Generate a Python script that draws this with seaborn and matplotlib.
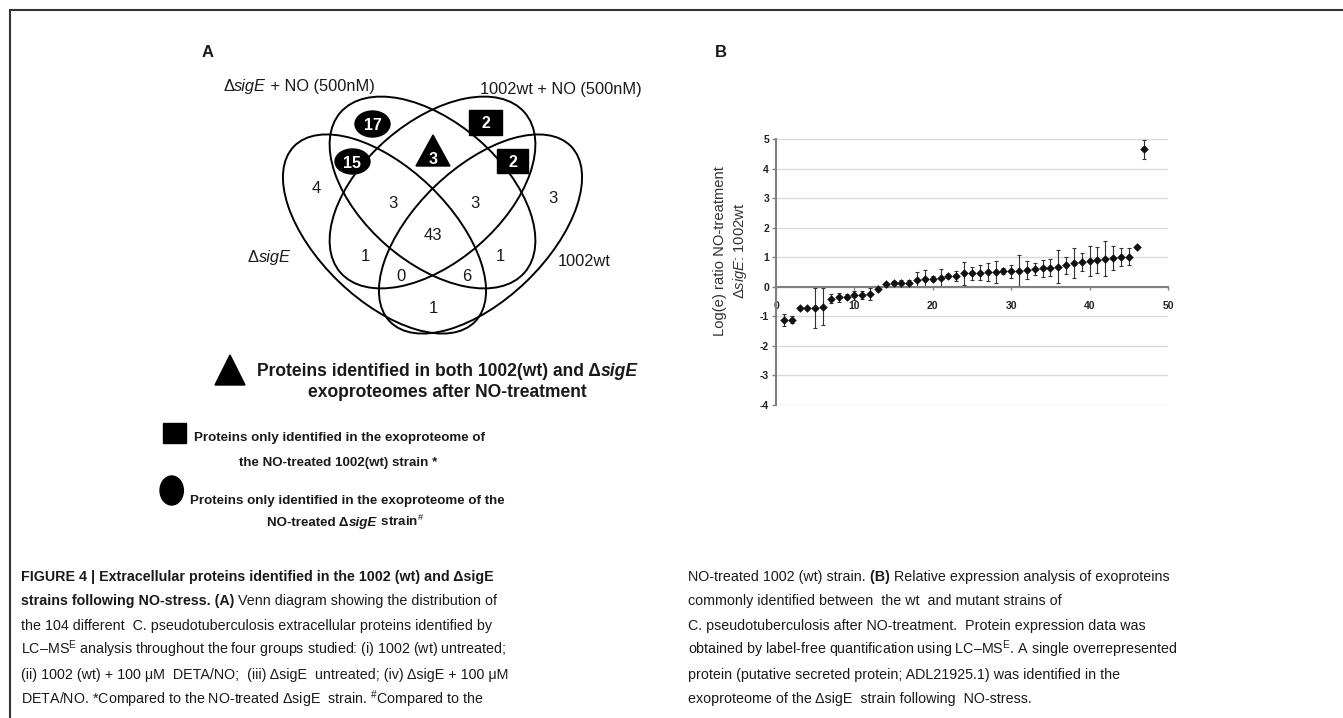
import matplotlib
matplotlib.use("Agg")
import matplotlib.pyplot as plt
import seaborn as sns
import pandas as pd
from matplotlib import font_manager
from matplotlib.patches import Ellipse, Rectangle, Polygon

# ---- panel B: log(e) ratio of the commonly identified proteins ----
protein_idx = list(range(1, 48))
log_ratio = [-1.13, -1.12, -0.73, -0.73, -0.72, -0.67, -0.41, -0.36, -0.33, -0.29,
             -0.28, -0.24, -0.09, 0.09, 0.12, 0.13, 0.13, 0.24, 0.28, 0.28,
             0.31, 0.37, 0.37, 0.45, 0.45, 0.47, 0.49, 0.50, 0.53, 0.53,
             0.55, 0.57, 0.60, 0.62, 0.65, 0.68, 0.72, 0.80, 0.85, 0.88,
             0.90, 0.95, 0.97, 1.00, 1.02, 1.35, 4.65]
log_err = [0.20, 0.12, 0.05, 0.05, 0.68, 0.62, 0.15, 0.15, 0.10, 0.15,
           0.15, 0.20, 0.05, 0.05, 0.07, 0.10, 0.10, 0.26, 0.30, 0.10,
           0.30, 0.06, 0.18, 0.38, 0.22, 0.25, 0.30, 0.38, 0.10, 0.22,
           0.52, 0.30, 0.20, 0.30, 0.30, 0.55, 0.30, 0.50, 0.30, 0.50,
           0.45, 0.60, 0.40, 0.30, 0.30, 0.08, 0.32]
x_ticks = [0, 10, 20, 30, 40, 50]
y_ticks = [-4, -3, -2, -1, 0, 1, 2, 3, 4, 5]

# ---- panel A: Venn diagram counts ----
set_names = ["ΔsigE", "ΔsigE + NO (500nM)", "1002wt + NO (500nM)", "1002wt"]
region_counts = [4, 17, 2, 3, 15, 3, 2, 3, 3, 43, 1, 1, 0, 6, 1]
region_marks = ["", "circle", "square", "", "circle", "triangle", "square",
                "", "", "", "", "", "", "", ""]

# layout (figure pixels, y pointing down)
W, H = 1343, 718
venn_ellipses = [(384.5, 234, 252, 132, 44), (432.5, 192.5, 244, 140, 41),
                 (432.5, 192.5, 244, 140, -41), (480.5, 234, 252, 132, -44)]
region_xy = [(316, 187), (372.5, 124), (485.5, 122.5), (553, 197), (352.5, 161.5),
             (433, 158), (512.5, 161), (393, 202), (475, 202), (433, 234),
             (365, 255), (500, 255), (401, 275), (467, 275), (433, 307)]
mark_size = {1: (35, 26), 2: (33, 25), 4: (35, 25), 5: (34, 31), 6: (31, 24)}
mark_center = {5: (433, 150.5)}

sns.set_theme(style="white")
names = {f.name for f in font_manager.fontManager.ttflist}
narrow = "Liberation Sans Narrow" if "Liberation Sans Narrow" in names else "Liberation Sans"
k = 1.0 if narrow != "Liberation Sans" else 0.82
plt.rcParams["font.family"] = ["Liberation Sans", "DejaVu Sans"]
plt.rcParams["axes.unicode_minus"] = False
plt.rcParams["mathtext.fontset"] = "custom"
plt.rcParams["mathtext.rm"] = "Liberation Sans"
plt.rcParams["mathtext.it"] = "Liberation Sans:italic"
plt.rcParams["mathtext.bf"] = "Liberation Sans:bold"

fig = plt.figure(figsize=(W / 100, H / 100), dpi=100)
ax_a = fig.add_axes([0, 0, 1, 1])
ax_a.set_xlim(0, W)
ax_a.set_ylim(H, 0)
ax_a.set_axis_off()

INK = "#1a1a1a"


def chain(x, y, parts, size, family="Liberation Sans", ha="left", color=INK):
    texts = []
    for s, style in parts:
        kw = dict(fontsize=size, family=family, color=color)
        kw.update(style)
        if texts:
            t = ax_a.annotate(s, xy=(1, 0), xycoords=texts[-1], va="bottom", ha="left", **kw)
        else:
            t = ax_a.text(x, y, s, va="baseline", ha="left", **kw)
        texts.append(t)
    if ha == "center":
        r = fig.canvas.get_renderer()
        w = sum(t.get_window_extent(r).width for t in texts)
        texts[0].set_x(x - w / 2)
    return texts


def with_italic(name, style=None):
    style = style or {}
    if "sigE" not in name:
        return [(name, style)]
    head, tail = name.split("sigE")
    it = dict(style, fontstyle="italic")
    parts = [(head, style), ("sigE", it)]
    if tail:
        parts.append((tail, style))
    return parts


# frame
ax_a.plot([9.5, 9.5, W], [H, 10, 10], color="#333333", lw=1.5, solid_joinstyle="miter")

# ---- Venn ----
for cx, cy, w, h, ang in venn_ellipses:
    ax_a.add_patch(Ellipse((cx, cy), w, h, angle=ang, fill=False, ec="black", lw=1.4))

for i, (n, m) in enumerate(zip(region_counts, region_marks)):
    tx, ty = region_xy[i]
    if m:
        w, h = mark_size[i]
        cx, cy = mark_center.get(i, (tx, ty))
        if m == "circle":
            ax_a.add_patch(Ellipse((cx, cy), w, h, color="black"))
        elif m == "square":
            ax_a.add_patch(Rectangle((cx - w / 2, cy - h / 2), w, h, color="black"))
        else:
            ax_a.add_patch(Polygon([(cx - w / 2, cy + h / 2), (cx + w / 2, cy + h / 2),
                                    (cx, cy - h / 2)], color="black"))
        ax_a.text(tx, ty, str(n), ha="center", va="center_baseline", fontsize=11.5,
                  color="white", fontweight="bold")
    else:
        ax_a.text(tx, ty, str(n), ha="center", va="center_baseline", fontsize=12, color=INK)

label_pos = [(248, 262), (223, 91), (480, 94), (558, 266)]
for name, (lx, ly) in zip(set_names, label_pos):
    chain(lx, ly, with_italic(name), 11.8)

ax_a.text(201.7, 56.7, "A", fontsize=12, fontweight="bold", color=INK, va="baseline")
ax_a.text(715, 56.7, "B", fontsize=12, fontweight="bold", color=INK, va="baseline")

# ---- legend of the marked regions ----
ax_a.add_patch(Polygon([(215, 385), (245, 385), (230, 355)], color="black"))
ax_a.add_patch(Rectangle((162.7, 422.7), 23, 20.6, color="black"))
ax_a.add_patch(Ellipse((171.7, 490.5), 23.3, 29, color="black"))

BD = {"fontweight": "bold"}
chain(447, 376, with_italic("Proteins identified in both 1002(wt) and ΔsigE", BD),
      15.4 * k, narrow, ha="center")
chain(447, 397, [("exoproteomes after NO-treatment", BD)], 15.4 * k, narrow, ha="center")
chain(339, 441, [("Proteins only identified in the exoproteome of", BD)], 11.8 * k, narrow, ha="center")
chain(338, 466, [("the NO-treated 1002(wt) strain *", BD)], 11.8 * k, narrow, ha="center")
chain(347, 504, [("Proteins only identified in the exoproteome of the", BD)], 11.8 * k, narrow, ha="center")
chain(346, 526, with_italic("NO-treated ΔsigE", BD) + [(" strain$^{\\#}$", BD)],
      11.8 * k, narrow, ha="center")

# ---- caption ----
RG = {}
cap_left = [
    [("FIGURE 4 | Extracellular proteins identified in the 1002 (wt) and ΔsigE", BD)],
    [("strains following NO-stress. (A)", BD), (" Venn diagram showing the distribution of", RG)],
    [("the 104 different  C. pseudotuberculosis extracellular proteins identified by", RG)],
    [("LC–MS$^{\\mathrm{E}}$ analysis throughout the four groups studied: (i) 1002 (wt) untreated;", RG)],
    [("(ii) 1002 (wt) + 100 μM  DETA/NO;  (iii) ΔsigE  untreated; (iv) ΔsigE + 100 μM", RG)],
    [("DETA/NO. *Compared to the NO-treated ΔsigE  strain. $^{\\#}$Compared to the", RG)],
]
cap_right = [
    [("NO-treated 1002 (wt) strain.", RG), (" (B)", BD), (" Relative expression analysis of exoproteins", RG)],
    [("commonly identified between  the wt  and mutant strains of", RG)],
    [("C. pseudotuberculosis after NO-treatment.  Protein expression data was", RG)],
    [("obtained by label-free quantification using LC–MS$^{\\mathrm{E}}$. A single overrepresented", RG)],
    [("protein (putative secreted protein; ADL21925.1) was identified in the", RG)],
    [("exoproteome of the ΔsigE  strain following  NO-stress.", RG)],
]
for j, parts in enumerate(cap_left):
    chain(20.7, 581 + 24.5 * j, parts, 10.3)
for j, parts in enumerate(cap_right):
    chain(688, 581 + 24.5 * j, parts, 10.3)

# ---- panel B ----
ax_b = fig.add_axes([776 / W, 1 - 405 / H, 392 / W, 266 / H])
df = pd.DataFrame({"protein": protein_idx, "ratio": log_ratio, "err": log_err})
ax_b.errorbar(df["protein"], df["ratio"], yerr=df["err"], fmt="none", ecolor="#333333",
              elinewidth=0.8, capsize=1.5, capthick=0.8, zorder=2)
sns.scatterplot(data=df, x="protein", y="ratio", marker="D", s=19, color="#111111",
                linewidth=0, ax=ax_b, zorder=3)
ax_b.set_xlim(0, 50)
ax_b.set_ylim(-4, 5)
ax_b.set_xticks(x_ticks)
ax_b.set_yticks(y_ticks)
ax_b.grid(axis="y", color="#d9d9d9", lw=1)
ax_b.grid(axis="x", visible=False)
ax_b.set_axisbelow(True)
ax_b.patch.set_alpha(0)
for s in ["top", "right"]:
    ax_b.spines[s].set_visible(False)
ax_b.spines["bottom"].set_position(("data", 0))
for s in ["bottom", "left"]:
    ax_b.spines[s].set_color("#808080")
    ax_b.spines[s].set_linewidth(1.5)
ax_b.tick_params(axis="y", left=True, length=3, width=1, color="#808080", pad=2,
                 labelsize=7.5, labelcolor="#222222")
ax_b.tick_params(axis="x", bottom=True, length=2.5, width=1, color="#808080", pad=8,
                 labelsize=7.5, labelcolor="#222222")
for lab in ax_b.get_xticklabels() + ax_b.get_yticklabels():
    lab.set_fontweight("bold")
ax_b.set_xlabel("")
ax_b.set_ylabel("Log(e) ratio NO-treatment\nΔ$\\mathit{sigE}$: 1002wt", fontsize=10.6,
                color="#333333", va="center", linespacing=1.25)
ax_b.yaxis.set_label_coords((731 - 776) / 392, (405 - 251) / 266)

fig.savefig("out.png", dpi=100)
